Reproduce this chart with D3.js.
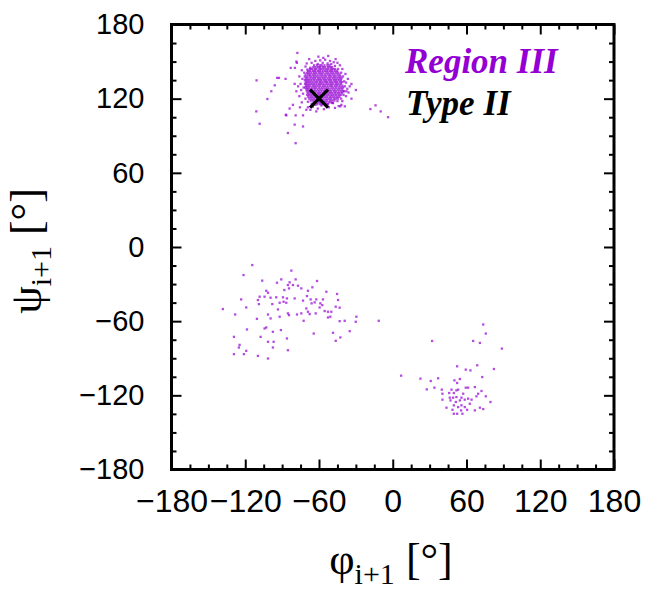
<!DOCTYPE html>
<html>
<head>
<meta charset="utf-8">
<script src="https://cdn.jsdelivr.net/npm/d3@7/dist/d3.min.js"></script>
<style>
  html, body { margin: 0; padding: 0; background: #fff; }
  svg { display: block; }
</style>
</head>
<body>
<svg id="chart" width="652" height="589"></svg>
<script>
// Axis ticks (degrees)
const majorTicks = [-180, -120, -60, 0, 60, 120, 180];
const minorTicks = [-165, -150, -135, -105, -90, -75, -45, -30, -15, 15, 30, 45, 75, 90, 105, 135, 150, 165];

// Legend / series labels
const seriesLabels = ["Region III", "Type II"];

// Dense core of the Region III population: [psi, [phi values]]
const coreRows = [
  [147.0, [-61.5, -59.2, -57.8, -55.6, -53.1, -51.4]],
  [145.5, [-64.6, -62.8, -60.7, -59.1, -56.9, -55.2, -52.8, -50.9, -49.3]],
  [144.0, [-67.4, -65.8, -63.6, -62.1, -59.7, -58.2, -56.3, -54.1, -52.4, -50.2, -48.6, -46.9]],
  [142.5, [-68.8, -67.1, -64.9, -63.2, -61.0, -59.3, -57.1, -55.0, -53.2, -51.1, -49.4, -47.2, -45.3]],
  [141.0, [-69.7, -68.1, -66.2, -64.0, -62.3, -60.1, -58.2, -56.4, -54.0, -52.3, -50.1, -48.3, -46.2, -44.4]],
  [139.5, [-70.9, -68.8, -67.2, -65.1, -63.3, -61.2, -59.0, -57.3, -55.1, -53.0, -51.2, -49.1, -47.3, -45.0, -43.2]],
  [138.0, [-71.6, -69.9, -67.8, -66.1, -64.0, -62.2, -60.3, -58.1, -56.2, -54.3, -52.0, -50.2, -48.1, -46.4, -44.2, -42.5]],
  [136.5, [-70.8, -69.2, -67.0, -65.1, -63.3, -61.0, -59.2, -57.1, -55.3, -53.1, -51.2, -49.0, -47.2, -45.1, -43.3, -41.6]],
  [135.0, [-71.5, -69.8, -68.1, -66.2, -64.1, -62.0, -60.2, -58.3, -56.1, -54.2, -52.1, -50.3, -48.0, -46.2, -44.1, -42.3]],
  [133.5, [-70.7, -69.0, -67.1, -65.2, -63.0, -61.3, -59.1, -57.2, -55.0, -53.3, -51.1, -49.2, -47.1, -45.3, -43.0, -41.2]],
  [132.0, [-71.4, -69.9, -68.0, -66.1, -64.2, -62.1, -60.0, -58.2, -56.3, -54.0, -52.2, -50.1, -48.3, -46.0, -44.2, -42.1]],
  [130.5, [-70.6, -69.1, -67.2, -65.0, -63.1, -61.2, -59.3, -57.0, -55.2, -53.1, -51.0, -49.3, -47.0, -45.2, -43.1, -41.0]],
  [129.0, [-71.2, -69.7, -68.2, -66.0, -64.1, -62.3, -60.1, -58.0, -56.2, -54.1, -52.3, -50.0, -48.2, -46.1, -44.0, -42.2, -40.4]],
  [127.5, [-70.3, -68.9, -67.0, -65.3, -63.2, -61.1, -59.0, -57.2, -55.1, -53.0, -51.3, -49.1, -47.2, -45.0, -43.2, -41.1]],
  [126.0, [-69.8, -68.0, -66.2, -64.0, -62.1, -60.2, -58.1, -56.0, -54.2, -52.1, -50.2, -48.0, -46.3, -44.1, -42.0, -40.3]],
  [124.5, [-69.1, -67.1, -65.0, -63.2, -61.0, -59.3, -57.1, -55.2, -53.0, -51.1, -49.2, -47.1, -45.0, -43.3, -41.2]],
  [123.0, [-69.6, -67.9, -66.1, -64.2, -62.0, -60.1, -58.3, -56.1, -54.0, -52.2, -50.0, -48.2, -46.1, -44.0, -42.3]],
  [121.5, [-68.7, -66.8, -65.1, -63.0, -61.2, -59.0, -57.2, -55.1, -53.2, -51.0, -49.1, -47.3, -45.2, -43.4]],
  [120.0, [-67.9, -66.0, -64.1, -62.2, -60.0, -58.1, -56.3, -54.0, -52.1, -50.3, -48.0, -46.2, -44.5]],
  [118.5, [-66.8, -64.9, -63.0, -61.1, -59.2, -57.0, -55.1, -53.3, -51.0, -49.2, -47.4]],
  [117.0, [-64.2, -62.0, -60.1, -58.3, -56.0, -54.2, -52.1, -50.3]],
  [115.5, [-61.3, -59.0, -57.2, -55.1, -53.0]]
];

// Sparser points around the core: [phi, psi]
const coreFringe = [
  [-72, 141], [-73.5, 136], [-72.5, 129], [-73, 124], [-71, 120], [-69, 117.5], [-66, 116], [-63, 115],
  [-58, 114.5], [-53, 115.5], [-49, 116.5], [-45, 118], [-42, 120], [-40, 123], [-39.5, 126], [-39, 130],
  [-39.5, 134], [-40.5, 138], [-42, 141], [-44.5, 144], [-47, 146.5], [-50, 148], [-53, 148.5], [-57, 149],
  [-61, 148], [-64, 147], [-67, 145], [-69.5, 143.5], [-71, 146], [-66, 149], [-59, 151], [-55, 151.5],
  [-48, 149.5], [-43, 147], [-38, 133], [-37, 128], [-38, 122], [-41, 118], [-44, 114], [-36, 125],
  [-75, 132], [-74.5, 127], [-76, 138], [-69, 113], [-61, 112], [-47, 112.5], [-74, 143], [-70, 148.5],
  [-63, 150.5], [-51, 150.5], [-45, 149], [-41, 144], [-38.5, 140], [-36.5, 136], [-77, 130], [-76, 122],
  [-74, 117], [-67, 111], [-56, 111.5], [-52, 113], [-65, 113.5], [-35, 130], [-75.5, 113], [-56.5, 153],
  [-60.5, 154], [-52.5, 154.5], [-68, 152], [-46.5, 152]
];

// Outlying points of the upper-left population: [phi, psi]
const upperScatter = [
  [-77.6, 157], [-110.8, 134.8], [-102, 119.7], [-111, 109.7], [-108.3, 99.7], [-85.3, 92.2], [-79, 84],
  [-73, 97.5], [-87, 107], [-96, 130.8], [-94, 136.8], [-79.6, 144.9], [-78.4, 150], [-33.6, 131.9],
  [-30, 127], [-18.2, 111.6], [-14, 114.6], [-3.8, 105], [-41.8, 115], [-37.7, 126], [-78, 149],
  [-83, 144.9], [-87.2, 136], [-92.6, 136.8], [-98.8, 126], [-79.8, 132], [-78.4, 126], [-81.2, 115],
  [-83.9, 112], [-86.6, 106.5], [-79, 106.5], [-73, 106.5], [-70.3, 111], [-62.2, 109.7], [-79.8, 99],
  [-33.6, 120], [-39, 113.8], [-9.8, 109.7], [-42.6, 113.8], [-48.6, 116.5]
];

// Alpha-helical-side population (lower left): [phi, psi]
const lowerLeft = [
  [-114.3, -14.6], [-82.5, -19.1], [-121.4, -22.7], [-106.2, -27.2], [-90.7, -26.2], [-94.2, -28.9],
  [-79.0, -26.2], [-83.9, -28.6], [-85.3, -30.8], [-81.2, -30.8], [-77.1, -31.3], [-61.6, -27.5],
  [-65.4, -32.6], [-74.4, -33.5], [-69.0, -35.4], [-88.2, -34.8], [-84.4, -33.5], [-102.9, -35.4],
  [-101.5, -37.0], [-108.3, -40.2], [-99.4, -41.0], [-104.3, -40.2], [-94.8, -40.7], [-89.3, -40.7],
  [-86.1, -41.6], [-88.8, -44.3], [-86.6, -45.1], [-92.0, -45.1], [-79.8, -41.6], [-73.0, -43.4],
  [-69.8, -39.7], [-66.8, -42.4], [-62.2, -42.4], [-63.5, -44.8], [-66.0, -45.6], [-58.9, -45.6],
  [-56.8, -42.4], [-57.3, -47.0], [-54.0, -36.2], [-45.3, -38.0], [-44.5, -42.9], [-46.4, -48.3],
  [-43.2, -49.1], [-55.4, -51.8], [-52.7, -52.4], [-50.0, -52.4], [-59.5, -48.9], [-70.3, -49.7],
  [-69.0, -52.4], [-62.7, -53.7], [-67.6, -54.3], [-74.4, -53.7], [-85.3, -53.7], [-84.4, -55.1],
  [-93.4, -50.5], [-98.0, -46.2], [-108.9, -46.2], [-109.7, -42.9], [-119.2, -48.9], [-138.2, -50.2],
  [-128.2, -54.6], [-123.3, -42.4], [-101.5, -54.6], [-99.4, -57.8], [-110.5, -58.1], [-92.0, -56.4],
  [-77.9, -54.6], [-72.5, -59.7], [-52.7, -57.0], [-50.8, -56.4], [-43.2, -60.0], [-39.1, -59.7],
  [-30.1, -60.5], [-29.6, -56.4], [-11.4, -59.7], [-35.0, -68.1], [-48.6, -69.4], [-42.6, -73.2],
  [-46.4, -75.9], [-64.3, -70.0], [-86.1, -74.0], [-91.0, -67.2], [-97.5, -68.6], [-102.9, -65.1],
  [-104.3, -65.9], [-107.5, -72.7], [-118.6, -66.7], [-129.2, -72.7], [-101.5, -76.7], [-96.9, -76.7],
  [-97.5, -81.3], [-85.3, -83.5], [-101.5, -90.2], [-119.2, -84.0], [-121.1, -86.7], [-125.2, -81.3],
  [-124.6, -79.2], [-129.2, -86.7], [-109.7, -88.1]
];

// Left-handed-side population (lower right): [phi, psi]
const lowerRight = [
  [73.6, -62.7], [75.7, -70.0], [32.0, -76.0], [65.4, -76.0], [70.9, -77.6], [88.8, -82.2],
  [52.4, -96.5], [59.4, -99.2], [63.2, -99.8], [68.7, -95.7], [82.3, -98.7], [72.8, -105.2],
  [6.8, -104.1], [22.5, -106.5], [30.9, -108.4], [36.9, -106.2], [54.6, -106.8], [50.2, -107.9],
  [52.4, -110.0], [27.7, -115.2], [33.9, -113.8], [39.9, -115.4], [40.4, -118.7], [47.8, -115.4],
  [53.2, -115.4], [49.7, -118.1], [59.4, -113.8], [61.3, -113.8], [66.8, -113.3], [69.5, -118.7],
  [72.2, -116.5], [75.7, -120.8], [46.4, -121.9], [49.1, -121.9], [51.8, -121.4], [55.9, -121.9],
  [54.6, -124.1], [58.6, -123.5], [61.3, -122.7], [64.1, -123.5], [51.3, -125.4], [49.7, -128.1],
  [53.2, -129.5], [55.9, -128.1], [58.6, -129.5], [62.7, -126.8], [68.1, -120.8], [79.5, -125.4],
  [70.9, -130.0], [73.6, -131.1], [66.8, -132.2], [60.5, -131.7], [55.6, -132.2], [52.4, -134.9],
  [49.7, -134.9], [56.7, -134.9], [47.0, -124.1], [45.9, -118.1], [43.7, -130.0], [48.6, -131.7],
  [40.4, -123.5], [51.8, -116.0], [57.3, -118.7]
];

// Reference conformation marker
const typeII = [[-60, 120]];

// ---------------------------------------------------------------
const svg = d3.select("#chart");
const frame = { left: 171.5, right: 614, top: 24.5, bottom: 469.5 };

const x = d3.scaleLinear().domain([-180, 180]).range([frame.left, frame.right]);
const y = d3.scaleLinear().domain([-180, 180]).range([frame.bottom, frame.top]);

const points = [];
coreRows.forEach(([psi, phis]) => phis.forEach(phi => points.push([phi, psi])));
[coreFringe, upperScatter, lowerLeft, lowerRight].forEach(arr => arr.forEach(p => points.push(p)));

const violet = "#9400D3";
const plot = svg.append("g");

const ps = 2.3;
plot.selectAll("rect.pt")
  .data(points)
  .enter().append("rect")
  .attr("class", "pt")
  .attr("x", d => x(d[0]) - ps / 2)
  .attr("y", d => y(d[1]) - ps / 2)
  .attr("width", ps)
  .attr("height", ps)
  .attr("fill", violet)
  .attr("fill-opacity", 0.7);

// Type II marker
plot.selectAll("path.mk")
  .data(typeII)
  .enter().append("path")
  .attr("class", "mk")
  .attr("transform", d => `translate(${x(d[0])},${y(d[1])})`)
  .attr("d", "M-9,-9L9,9M-9,9L9,-9")
  .attr("stroke", "#000")
  .attr("stroke-width", 3.2)
  .attr("fill", "none");

// Axes with inward ticks on all four sides
const tickFont = "'Liberation Sans', Arial, Helvetica, sans-serif";
function styleAxis(g, width) {
  g.select(".domain").remove();
  g.selectAll(".tick line").attr("stroke", "#000").attr("stroke-width", width);
}

const xMajor = svg.append("g").attr("transform", `translate(0,${frame.bottom})`)
  .call(d3.axisBottom(x).tickValues(majorTicks).tickSize(-10).tickPadding(20).tickFormat(d3.format("d")));
styleAxis(xMajor, 2);
xMajor.selectAll("text").attr("font-family", tickFont).attr("font-size", 32).attr("fill", "#000");

svg.append("g").attr("transform", `translate(0,${frame.bottom})`)
  .call(d3.axisBottom(x).tickValues(minorTicks).tickSize(-5).tickFormat(""))
  .call(g => styleAxis(g, 2));

svg.append("g").attr("transform", `translate(0,${frame.top})`)
  .call(d3.axisTop(x).tickValues(majorTicks).tickSize(-10).tickFormat(""))
  .call(g => styleAxis(g, 2));
svg.append("g").attr("transform", `translate(0,${frame.top})`)
  .call(d3.axisTop(x).tickValues(minorTicks).tickSize(-5).tickFormat(""))
  .call(g => styleAxis(g, 2));

const yMajor = svg.append("g").attr("transform", `translate(${frame.left},0)`)
  .call(d3.axisLeft(y).tickValues(majorTicks).tickSize(-10).tickPadding(27).tickFormat(d3.format("d")));
styleAxis(yMajor, 2);
yMajor.selectAll("text").attr("font-family", tickFont).attr("font-size", 29).attr("fill", "#000");

svg.append("g").attr("transform", `translate(${frame.left},0)`)
  .call(d3.axisLeft(y).tickValues(minorTicks).tickSize(-5).tickFormat(""))
  .call(g => styleAxis(g, 2));
svg.append("g").attr("transform", `translate(${frame.right},0)`)
  .call(d3.axisRight(y).tickValues(majorTicks).tickSize(-10).tickFormat(""))
  .call(g => styleAxis(g, 2));
svg.append("g").attr("transform", `translate(${frame.right},0)`)
  .call(d3.axisRight(y).tickValues(minorTicks).tickSize(-5).tickFormat(""))
  .call(g => styleAxis(g, 2));

// Frame
svg.append("rect")
  .attr("x", frame.left).attr("y", frame.top)
  .attr("width", frame.right - frame.left).attr("height", frame.bottom - frame.top)
  .attr("fill", "none").attr("stroke", "#000").attr("stroke-width", 3);

// Axis titles
const serif = "'Liberation Serif', 'Times New Roman', Times, serif";
const xt = svg.append("text")
  .attr("x", 391).attr("y", 574)
  .attr("text-anchor", "middle")
  .attr("font-family", serif).attr("font-size", 44).attr("fill", "#000");
xt.append("tspan").text("φ");
xt.append("tspan").attr("font-size", 30).attr("dy", 10).text("i+1");
xt.append("tspan").attr("dy", -10).text(" [°]");

const yt = svg.append("text")
  .attr("transform", "translate(41,251) rotate(-90)")
  .attr("text-anchor", "middle")
  .attr("font-family", serif).attr("font-size", 44).attr("fill", "#000");
yt.append("tspan").text("ψ");
yt.append("tspan").attr("font-size", 30).attr("dy", 10).text("i+1");
yt.append("tspan").attr("dy", -10).text(" [°]");

// Legend labels
svg.append("text")
  .attr("x", 405).attr("y", 73)
  .attr("font-family", serif).attr("font-size", 35)
  .attr("font-weight", "bold").attr("font-style", "italic")
  .attr("fill", violet).text(seriesLabels[0]);
svg.append("text")
  .attr("x", 406).attr("y", 115)
  .attr("font-family", serif).attr("font-size", 35)
  .attr("font-weight", "bold").attr("font-style", "italic")
  .attr("fill", "#000").text(seriesLabels[1]);
</script>
</body>
</html>
